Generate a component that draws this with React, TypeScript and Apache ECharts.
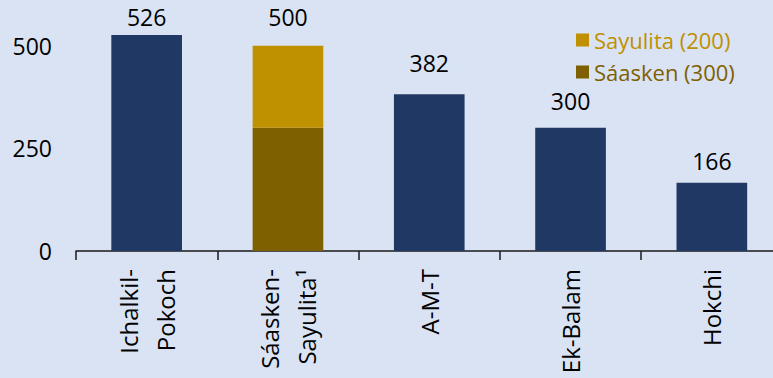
import React, { useEffect, useRef } from "react";
import * as echarts from "echarts";

// ---- data ----
const categories = ["Ichalkil-\nPokoch", "Sáasken-\nSayulita¹", "A-M-T", "Ek-Balam", "Hokchi"];
const fieldTotals = [526, 0, 382, 300, 166];
const saaskenValues = [0, 300, 0, 0, 0];
const sayulitaValues = [0, 200, 0, 0, 0];
const saaskenName = "Sáasken (300)";
const sayulitaName = "Sayulita (200)";
const yTickStep = 250;

// ---- layout / style (not data) ----
const labelDistance = [6, 17, 20, 15, 10];
const NAVY = "#203864";
const GOLD = "#BF9000";
const BROWN = "#7F6000";
const BG = "#DAE3F3";
const FONT = "'Open Sans', 'Noto Sans', sans-serif";

export default function App() {
  const ref = useRef<HTMLDivElement>(null);
  useEffect(() => {
    document.body.style.margin = "0";
    const chart = echarts.init(ref.current!, null, { renderer: "svg" });
    const labelBase = {
      show: true,
      position: "top",
      fontSize: 23,
      color: "#000",
      fontFamily: FONT,
    };
    chart.setOption({
      animation: false,
      backgroundColor: BG,
      textStyle: { fontFamily: FONT },
      grid: {
        left: 76,
        width: 706.5,
        top: 4.6,
        bottom: 127,
        containLabel: false,
        outerBoundsMode: "none",
      },
      legend: {
        orient: "vertical",
        left: 576,
        top: 29,
        padding: 0,
        itemWidth: 13,
        itemHeight: 13,
        itemGap: 10,
        icon: "rect",
        textStyle: { fontSize: 22, fontFamily: FONT },
        data: [
          { name: sayulitaName, textStyle: { color: GOLD } },
          { name: saaskenName, textStyle: { color: BROWN } },
        ],
      },
      xAxis: {
        type: "category",
        data: categories,
        axisLine: { show: true, lineStyle: { color: "#1a1a1a", width: 1.5 } },
        axisTick: { show: true, length: 9, lineStyle: { color: "#1a1a1a", width: 1.5 } },
        axisLabel: {
          interval: 0,
          rotate: 90,
          margin: 18,
          fontSize: 24,
          lineHeight: 37,
          color: "#000",
          fontFamily: FONT,
        },
      },
      yAxis: {
        type: "value",
        min: 0,
        max: 600,
        interval: yTickStep,
        axisLine: { show: false },
        axisTick: { show: false },
        splitLine: { show: false },
        axisLabel: {
          margin: 24,
          fontSize: 23,
          color: "#000",
          fontFamily: FONT,
          formatter: (v: number) => (v % yTickStep === 0 ? String(v) : ""),
        },
      },
      series: [
        {
          name: "Total",
          type: "bar",
          stack: "s",
          barWidth: "50%",
          itemStyle: { color: NAVY },
          label: labelBase,
          data: fieldTotals.map((v, i) => ({
            value: v,
            label: { show: v > 0, distance: labelDistance[i] },
          })),
        },
        {
          name: saaskenName,
          type: "bar",
          stack: "s",
          barWidth: "50%",
          itemStyle: { color: BROWN },
          label: { show: false },
          data: saaskenValues,
        },
        {
          name: sayulitaName,
          type: "bar",
          stack: "s",
          barWidth: "50%",
          itemStyle: { color: GOLD },
          label: {
            ...labelBase,
            formatter: (p: any) => String(saaskenValues[p.dataIndex] + sayulitaValues[p.dataIndex]),
          },
          data: sayulitaValues.map((v, i) => ({
            value: v,
            label: { show: v > 0, distance: labelDistance[i] },
          })),
        },
      ],
    });
    return () => chart.dispose();
  }, []);
  return <div ref={ref} style={{ width: 773, height: 378 }} />;
}
